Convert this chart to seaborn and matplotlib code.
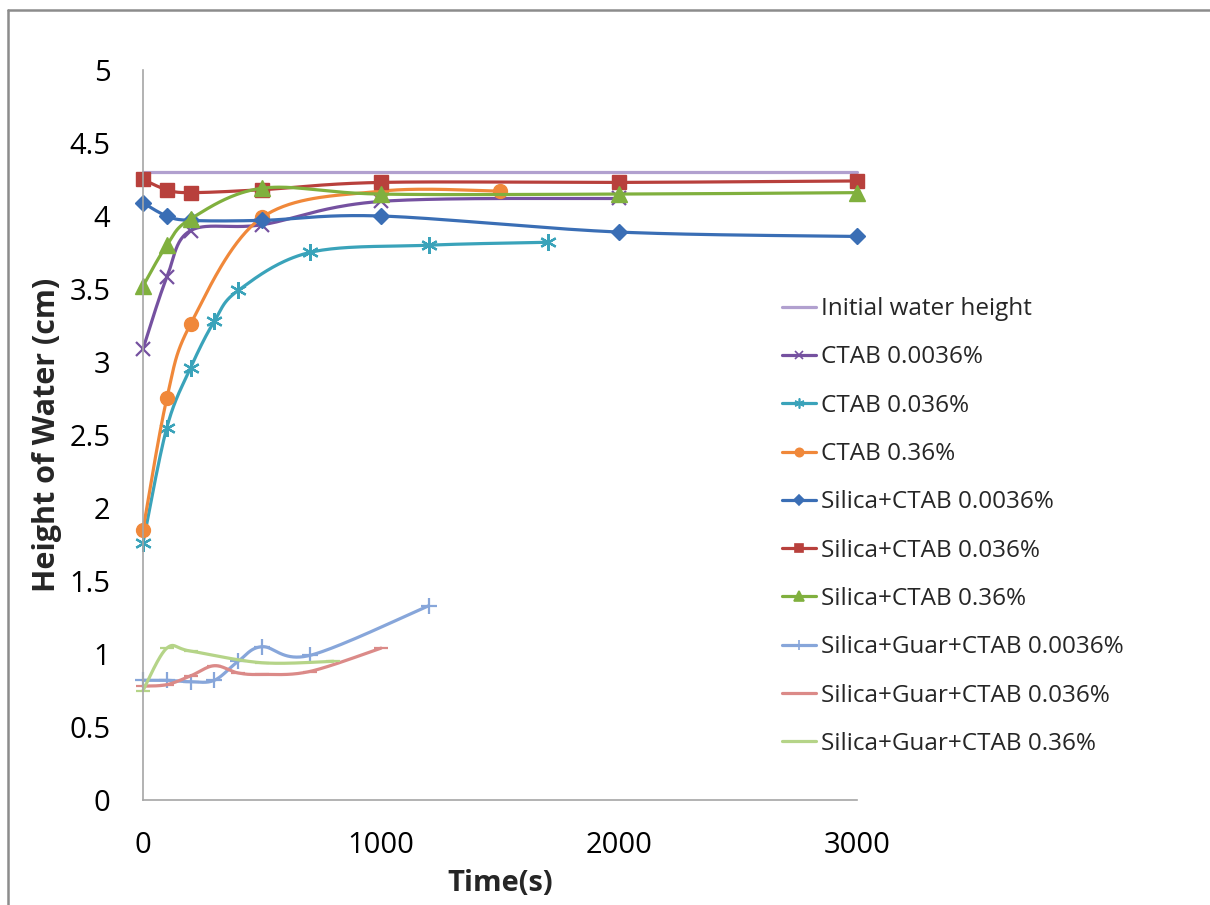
import numpy as np
import matplotlib
matplotlib.use("Agg")
from matplotlib import pyplot as plt
from matplotlib.lines import Line2D
import seaborn as sns

# values
t_initial = [0, 3000]
h_initial = [4.3, 4.3]

t_ctab_00036 = [0, 100, 200, 500, 1000, 2000]
h_ctab_00036 = [3.09, 3.58, 3.9, 3.94, 4.1, 4.12]

t_ctab_0036 = [0, 100, 200, 300, 400, 700, 1200, 1700]
h_ctab_0036 = [1.76, 2.55, 2.96, 3.28, 3.49, 3.75, 3.8, 3.82]

t_ctab_036 = [0, 100, 200, 500, 1000, 1500]
h_ctab_036 = [1.85, 2.75, 3.26, 3.99, 4.17, 4.17]

t_sil_00036 = [0, 100, 200, 500, 1000, 2000, 3000]
h_sil_00036 = [4.09, 4.0, 3.97, 3.97, 4.0, 3.89, 3.86]

t_sil_0036 = [0, 100, 200, 500, 1000, 2000, 3000]
h_sil_0036 = [4.25, 4.18, 4.16, 4.18, 4.23, 4.23, 4.24]

t_sil_036 = [0, 100, 200, 500, 1000, 2000, 3000]
h_sil_036 = [3.52, 3.8, 3.98, 4.19, 4.15, 4.15, 4.16]

t_guar_00036 = [0, 100, 200, 300, 400, 500, 700, 1200]
h_guar_00036 = [0.82, 0.82, 0.81, 0.82, 0.95, 1.05, 0.99, 1.33]

t_guar_0036 = [0, 100, 200, 300, 400, 500, 700, 1000]
h_guar_0036 = [0.78, 0.79, 0.85, 0.92, 0.87, 0.86, 0.88, 1.04]

t_guar_036 = [0, 100, 200, 500, 800]
h_guar_036 = [0.75, 1.04, 1.02, 0.94, 0.95]

labels = ["Initial water height", "CTAB 0.0036%", "CTAB 0.036%", "CTAB 0.36%",
          "Silica+CTAB 0.0036%", "Silica+CTAB 0.036%", "Silica+CTAB 0.36%",
          "Silica+Guar+CTAB 0.0036%", "Silica+Guar+CTAB 0.036%",
          "Silica+Guar+CTAB 0.36%"]

series = [
    (t_initial, h_initial, "#B1A0CF", None, 0),
    (t_ctab_00036, h_ctab_00036, "#7551A0", "x", 10),
    (t_ctab_0036, h_ctab_0036, "#3AA3BA", (6, 2, 0), 12),
    (t_ctab_036, h_ctab_036, "#F0883A", "o", 10),
    (t_sil_00036, h_sil_00036, "#3A6EB5", "D", 8),
    (t_sil_0036, h_sil_0036, "#B8403C", "s", 10),
    (t_sil_036, h_sil_036, "#80B03E", "^", 11),
    (t_guar_00036, h_guar_00036, "#87A6DA", "+", 12),
    (t_guar_0036, h_guar_0036, "#DB8A88", "_", 10),
    (t_guar_036, h_guar_036, "#B5D488", "_", 10),
]


def smooth(x, y, n=40):
    # excel style smoothed line: cubic bezier with 1/6 tangents
    p = np.column_stack([x, y]).astype(float)
    if len(p) < 3:
        return p[:, 0], p[:, 1]
    out = []
    for i in range(len(p) - 1):
        a = p[max(i - 1, 0)]
        b = p[i]
        c = p[i + 1]
        d = p[min(i + 2, len(p) - 1)]
        c1 = b + (c - a) / 6
        c2 = c - (d - b) / 6
        s = np.linspace(0, 1, n)[:, None]
        seg = ((1 - s) ** 3) * b + 3 * ((1 - s) ** 2) * s * c1 + 3 * (1 - s) * s ** 2 * c2 + s ** 3 * c
        out.append(seg if i == 0 else seg[1:])
    out = np.vstack(out)
    return out[:, 0], out[:, 1]


sns.set_style("white")
plt.rcParams['font.family'] = ['Open Sans', 'DejaVu Sans']

fig = plt.figure(figsize=(12.1, 9.05), dpi=100)
ax = fig.add_axes([143 / 1210, 1 - 800 / 905, 714 / 1210, 730 / 905])

handles = []
for (tx, hy, col, mk, ms), lab in zip(series, labels):
    sx, sy = smooth(tx, hy)
    sns.lineplot(x=sx, y=sy, sort=False, estimator=None, color=col, lw=2.3, ax=ax)
    ax.lines[-1].set_clip_on(False)
    if mk is not None:
        mew = 1.6 if mk in ("x", "+", "_", (6, 2, 0)) else 1
        ax.plot(tx, hy, ls="none", marker=mk, ms=ms, color=col, mec=col, mew=mew, clip_on=False)
    handles.append(Line2D([], [], color=col, lw=2.3, marker=mk, ms=ms * 0.6,
                          mew=1.2, mec=col))

ax.set_xlim(0, 3000)
ax.set_ylim(0, 5)
ax.set_xticks([0, 1000, 2000, 3000])
ax.set_yticks(np.arange(0, 5.01, 0.5))
ax.set_yticklabels(["0", "0.5", "1", "1.5", "2", "2.5", "3", "3.5", "4", "4.5", "5"])

for s in ["top", "right"]:
    ax.spines[s].set_visible(False)
for s in ["left", "bottom"]:
    ax.spines[s].set_color("#A6A6A6")
    ax.spines[s].set_linewidth(1.2)
ax.tick_params(axis="both", direction="out", length=8.5, width=1.2, color="#A6A6A6",
               labelsize=21, labelcolor="black", pad=15)
ax.tick_params(axis="x", pad=14)

ax.set_xlabel("Time(s)", fontsize=21, fontweight="bold", va="center")
ax.set_ylabel("Height of Water (cm)", fontsize=22, fontweight="bold", va="center")
ax.xaxis.set_label_coords(0.5, -0.114)
ax.yaxis.set_label_coords(-0.135, 0.5)

ax.legend(handles, labels, loc="upper left", bbox_to_anchor=(770 / 1210, 1 - 285 / 905),
          bbox_transform=fig.transFigure, frameon=False, fontsize=17.5,
          handlelength=1.4, handletextpad=0.2, labelspacing=1.0, borderpad=0)

# outer chart frame
fig.add_artist(Line2D([8 / 1210, 1], [1 - 10 / 905, 1 - 10 / 905], color="#8C8C8C", lw=1.8))
fig.add_artist(Line2D([8 / 1210, 8 / 1210], [1 - 10 / 905, 0], color="#8C8C8C", lw=1.8))

fig.savefig("out.png", dpi=100)
